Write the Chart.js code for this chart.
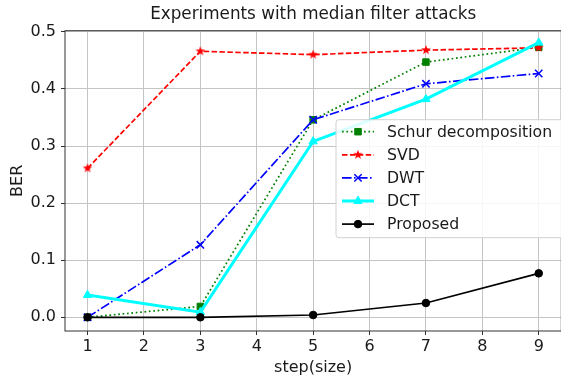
<!DOCTYPE html>
<html>
<head>
<meta charset="utf-8">
<script src="https://cdn.jsdelivr.net/npm/chart.js@4/dist/chart.umd.min.js"></script>
<style>
    html, body { margin: 0; padding: 0; background: #fff; overflow: hidden; }
    #wrap { width: 568px; height: 377px; }
</style>
</head>
<body>
<div id="wrap"><canvas id="berChart" width="568" height="377"></canvas></div>
<script>
// Dữ liệu
const steps = [1, 3, 5, 7, 9];
const schurBer = [0.0, 0.019, 0.346, 0.447, 0.473];
const svdBer = [0.261, 0.466, 0.460, 0.468, 0.472];
const dwtBer = [0.0, 0.127, 0.346, 0.409, 0.427];
const dctBer = [0.039, 0.009, 0.308, 0.382, 0.481];
const proposedBer = [0.0, 0.0, 0.004, 0.025, 0.077];

const seriesNames = ['Schur decomposition', 'SVD', 'DWT', 'DCT', 'Proposed'];
const xTicks = [1, 2, 3, 4, 5, 6, 7, 8, 9];
const yTicks = [0.0, 0.1, 0.2, 0.3, 0.4, 0.5];
const chartTitle = 'Experiments with median filter attacks';

const FONT = 'DejaVu Sans';
const FONT_SIZE = 16;
const TEXT_COLOR = '#1a1a1a';

// Tạo marker hình ngôi sao (matplotlib '*')
function makeStar(color, outer, inner) {
    const size = Math.ceil(outer * 2 + 2);
    const c = document.createElement('canvas');
    c.width = size;
    c.height = size;
    const g = c.getContext('2d');
    g.translate(size / 2, size / 2);
    g.beginPath();
    for (let i = 0; i < 10; i++) {
        const r = i % 2 === 0 ? outer : inner;
        const a = -Math.PI / 2 + i * Math.PI / 5;
        if (i === 0) g.moveTo(r * Math.cos(a), r * Math.sin(a));
        else g.lineTo(r * Math.cos(a), r * Math.sin(a));
    }
    g.closePath();
    g.fillStyle = color;
    g.fill();
    return c;
}
const starMarker = makeStar('#ff0000', 5, 2.1);

const toPoints = arr => steps.map((s, i) => ({ x: s, y: arr[i] }));

const datasets = [
    {
        label: seriesNames[0], data: toPoints(schurBer),
        borderColor: '#008000', backgroundColor: '#008000', borderWidth: 1.7,
        borderDash: [1.7, 2.7], pointStyle: 'rect', pointRadius: 4.6,
        pointBorderWidth: 1, order: 4
    },
    {
        label: seriesNames[1], data: toPoints(svdBer),
        borderColor: '#ff0000', backgroundColor: '#ff0000', borderWidth: 1.7,
        borderDash: [5.5, 2.4], pointStyle: starMarker, pointRadius: 5,
        pointBorderWidth: 0, order: 3
    },
    {
        label: seriesNames[2], data: toPoints(dwtBer),
        borderColor: '#0000ff', backgroundColor: '#0000ff', borderWidth: 1.7,
        borderDash: [9.6, 2.4, 1.6, 2.4], pointStyle: 'crossRot', pointRadius: 5.2,
        pointBorderWidth: 1.5, order: 2
    },
    {
        label: seriesNames[3], data: toPoints(dctBer),
        borderColor: '#00ffff', backgroundColor: '#00ffff', borderWidth: 3,
        borderDash: [], pointStyle: 'triangle', pointRadius: 4.8,
        pointBorderWidth: 1, order: 1
    },
    {
        label: seriesNames[4], data: toPoints(proposedBer),
        borderColor: '#000000', backgroundColor: '#000000', borderWidth: 1.7,
        borderDash: [], pointStyle: 'circle', pointRadius: 3.8,
        pointBorderWidth: 1, order: 0
    }
];
datasets.forEach(d => { d.tension = 0; d.fill = false; d.pointHoverRadius = d.pointRadius; });

// Tiêu đề căn giữa theo vùng vẽ (giống matplotlib)
const areaTitle = {
    id: 'areaTitle',
    afterDraw(chart) {
        const { ctx, chartArea: a } = chart;
        ctx.save();
        ctx.fillStyle = TEXT_COLOR;
        ctx.font = `16.8px "${FONT}"`;
        ctx.textAlign = 'center';
        ctx.textBaseline = 'middle';
        ctx.fillText(chartTitle, (a.left + a.right) / 2, 15);
        ctx.restore();
    }
};

// Khung viền quanh vùng vẽ
const frameBox = {
    id: 'frameBox',
    afterDatasetsDraw(chart) {
        const { ctx, chartArea: a } = chart;
        ctx.save();
        ctx.strokeStyle = '#333';
        ctx.lineWidth = 1;
        ctx.strokeRect(a.left, a.top, a.right - a.left, a.bottom - a.top);
        ctx.restore();
    }
};

// Chú thích vẽ bên trong vùng biểu đồ
const innerLegend = {
    id: 'innerLegend',
    afterDraw(chart) {
        const { ctx, chartArea: a } = chart;
        const boxX = a.left + 271, boxY = a.top + 89;
        const boxW = 240, boxH = 118;
        ctx.save();
        ctx.beginPath();
        ctx.roundRect(boxX, boxY, boxW, boxH, 3);
        ctx.fillStyle = 'rgba(255,255,255,0.85)';
        ctx.fill();
        ctx.strokeStyle = '#d0d0d0';
        ctx.lineWidth = 1;
        ctx.stroke();

        chart.data.datasets.forEach((ds, i) => {
            const y = boxY + 12 + i * 23.1;
            const x0 = boxX + 6, x1 = boxX + 38;
            ctx.save();
            ctx.strokeStyle = ds.borderColor;
            ctx.lineWidth = ds.borderWidth;
            ctx.setLineDash(ds.borderDash);
            ctx.beginPath();
            ctx.moveTo(x0, y);
            ctx.lineTo(x1, y);
            ctx.stroke();
            ctx.restore();

            ctx.save();
            ctx.strokeStyle = ds.borderColor;
            ctx.fillStyle = ds.backgroundColor;
            ctx.lineWidth = ds.pointBorderWidth;
            Chart.helpers.drawPoint(ctx, { pointStyle: ds.pointStyle, radius: ds.pointRadius, rotation: 0, borderWidth: ds.pointBorderWidth }, (x0 + x1) / 2, y);
            ctx.restore();

            ctx.fillStyle = TEXT_COLOR;
            ctx.font = `15.7px "${FONT}"`;
            ctx.textBaseline = 'middle';
            ctx.fillText(ds.label, boxX + 51, y + 1);
        });
        ctx.restore();
    }
};

const ctx = document.getElementById('berChart').getContext('2d');
new Chart(ctx, {
    type: 'line',
    data: { datasets },
    options: {
        responsive: false,
        animation: false,
        layout: { padding: { left: 0, right: 2, top: 30.7, bottom: 0 } },
        plugins: {
            legend: { display: false },
            tooltip: { enabled: false },
            title: { display: false }
        },
        scales: {
            x: {
                type: 'linear',
                min: 0.6,
                max: 9.4,
                afterBuildTicks: scale => { scale.ticks = xTicks.map(v => ({ value: v })); },
                afterFit: scale => { scale.height = 46; },
                ticks: {
                    color: TEXT_COLOR,
                    font: { family: FONT, size: FONT_SIZE },
                    padding: 2,
                    maxRotation: 0,
                    callback: v => String(v)
                },
                grid: { color: '#c4c4c4', lineWidth: 1, tickLength: 4, tickColor: '#333' },
                border: { display: false },
                title: {
                    display: true,
                    text: 'step(size)',
                    color: TEXT_COLOR,
                    font: { family: FONT, size: FONT_SIZE },
                    padding: { top: 0, bottom: 0 }
                }
            },
            y: {
                type: 'linear',
                min: -0.024,
                max: 0.502,
                afterBuildTicks: scale => { scale.ticks = yTicks.map(v => ({ value: v })); },
                afterFit: scale => { scale.width = 65; },
                ticks: {
                    color: TEXT_COLOR,
                    font: { family: FONT, size: FONT_SIZE },
                    padding: 5,
                    callback: v => Number(v).toFixed(1)
                },
                grid: { color: '#c4c4c4', lineWidth: 1, tickLength: 4, tickColor: '#333' },
                border: { display: false },
                title: {
                    display: true,
                    text: 'BER',
                    color: TEXT_COLOR,
                    font: { family: FONT, size: FONT_SIZE },
                    padding: { top: 8, bottom: 0 }
                }
            }
        }
    },
    plugins: [frameBox, innerLegend, areaTitle]
});
</script>
</body>
</html>
